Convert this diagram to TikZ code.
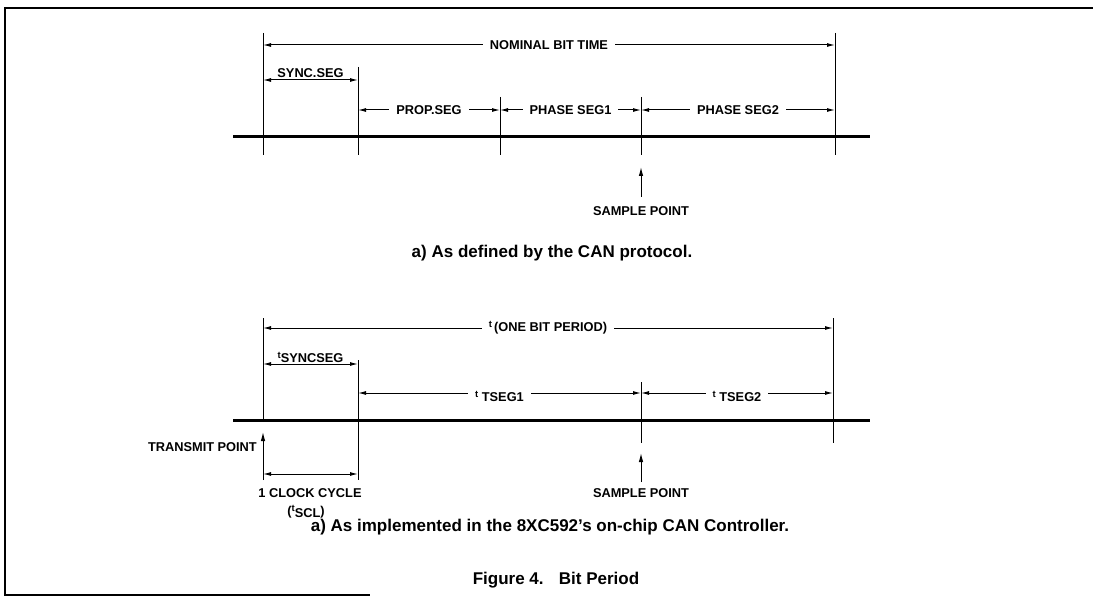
\documentclass[tikz,border=0pt]{standalone}
\usepackage{fontspec}
\setmainfont{Liberation Sans}
\usetikzlibrary{arrows.meta,positioning}
\newcommand{\tpre}{\raisebox{4pt}{\fontsize{9.5}{10}\selectfont t}}

\begin{document}
\begin{tikzpicture}[
    x=1pt, y=-1pt,
    lbl/.style={font=\bfseries\fontsize{12.8}{14}\selectfont, inner sep=1pt},
    caption/.style={font=\bfseries\fontsize{17}{19}\selectfont, inner sep=1pt},
    gap/.style={lbl, fill=white, inner xsep=7pt},
    tick/.style={line width=1pt},
    bus/.style={line width=3pt},
    dim/.style={{Latex[length=8pt,width=4pt]}-{Latex[length=8pt,width=4pt]}, line width=1pt},
    up/.style={-{Latex[length=9pt,width=4.5pt]}, line width=1pt}
]
\useasboundingbox (0,0) rectangle (1093,596);
\draw[line width=1.4pt] (1093,8) -- (5,8) -- (5,595) -- (370,595);

% a) as defined by the protocol
\foreach \n/\x/\t in {p0/263/33, p1/358/67, p2/500/97, p3/641/97, p4/835/33} {
  \coordinate (\n) at (\x,\t);
  \draw[tick] (\n) -- (\x,155);
}
\coordinate (pNom)  at (0,45);
\coordinate (pSync) at (0,80);
\coordinate (pSeg)  at (0,110);
\coordinate (busL)  at (233,137);
\coordinate (busR)  at (870,137);
\draw[bus] (busL) -- (busR);

\draw[dim] (p0 |- pNom) -- node[gap] {NOMINAL BIT TIME} (p4 |- pNom);
\draw[dim] (p0 |- pSync) -- node[lbl, above=1pt] {SYNC.SEG} (p1 |- pSync);
\draw[dim] (p1 |- pSeg) -- node[gap] {PROP.SEG} (p2 |- pSeg);
\draw[dim] (p2 |- pSeg) -- node[gap] {PHASE SEG1} (p3 |- pSeg);
\draw[dim] (p3 |- pSeg) -- node[gap] {PHASE SEG2} (p4 |- pSeg);

\node[lbl] (sampleA) at (641,211) {SAMPLE POINT};
\coordinate (sampleTail) at (641,197);
\draw[up] (sampleTail) -- (641,167);
\node[caption] (capA) at (552,253) {a) As defined by the CAN protocol.};

% b) as implemented in the controller
\foreach \n/\x/\t/\b in {q0/263/318/420, q1/358/360/480, q2/641/382/443, q3/833/318/443} {
  \coordinate (\n) at (\x,\t);
  \draw[tick] (\n) -- (\x,\b);
}
\coordinate (qBit)  at (0,328);
\coordinate (qSync) at (0,364);
\coordinate (qSeg)  at (0,393);
\coordinate (qClk)  at (0,474);
\draw[bus] (233,420) -- (870,420);

\draw[dim] (q0 |- qBit) -- node[gap] {\tpre\,(ONE BIT PERIOD)} (q3 |- qBit);
\draw[dim] (q0 |- qSync) -- node[lbl, above=0pt] {\tpre SYNCSEG} (q1 |- qSync);
\draw[dim] (q1 |- qSeg) -- node[gap, yshift=-3pt] {\tpre\ TSEG1} (q2 |- qSeg);
\draw[dim] (q2 |- qSeg) -- node[gap, yshift=-3pt] {\tpre\ TSEG2} (q3 |- qSeg);

\coordinate (xmitTail) at (263,480);
\draw[up] (xmitTail) -- (263,432);
\node[lbl, anchor=east] (xmit) at (258,447) {TRANSMIT POINT};
\draw[dim] (q0 |- qClk) -- (q1 |- qClk);
\node[lbl] (clk) at (310,493) {1 CLOCK CYCLE};
\node[lbl] (tscl) at (306,512) {(\tpre\raisebox{-2pt}{SCL})};

\node[lbl] (sampleB) at (641,493) {SAMPLE POINT};
\coordinate (sampleBTail) at (641,482);
\draw[up] (sampleBTail) -- (641,453);

\node[caption] (capB) at (550,527) {a) As implemented in the 8XC592's on-chip CAN Controller.};
\node[caption] (fig) at (556,580) {Figure 4.\hspace{0.9em}Bit Period};
\end{tikzpicture}
\end{document}
